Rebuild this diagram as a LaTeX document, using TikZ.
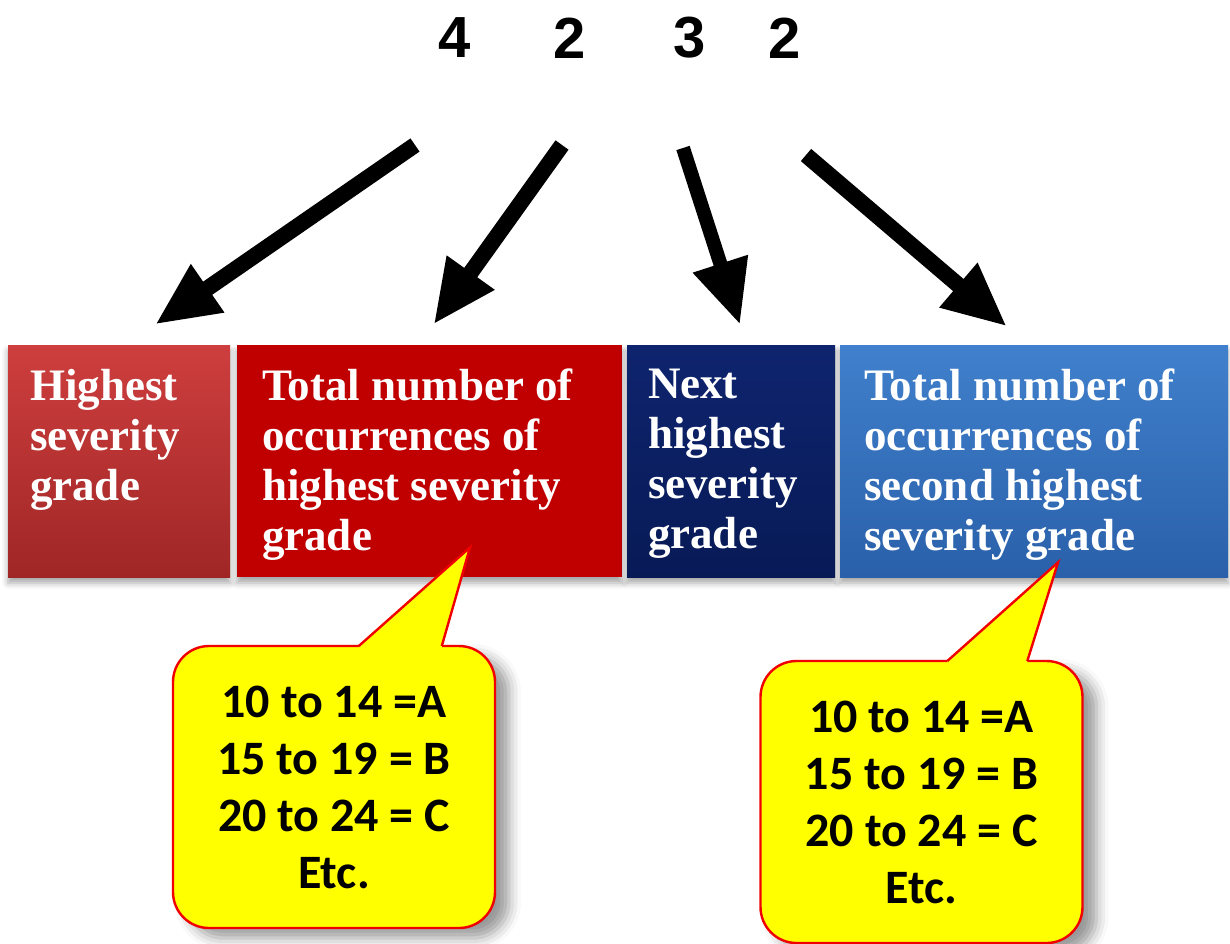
\documentclass[tikz,border=0pt]{standalone}
\usepackage{fontspec}
\usepackage{xcolor}
\usepackage{tikz}
\newfontfamily\gradefont{Liberation Serif}
\newfontfamily\digitfont{Liberation Sans}
\newfontfamily\notefont{Carlito}
\definecolor{gradered}{RGB}{192, 0, 0}
\definecolor{lightredtop}{RGB}{206, 62, 62}
\definecolor{lightredbot}{RGB}{160, 38, 38}
\definecolor{navytop}{RGB}{14, 36, 110}
\definecolor{navybot}{RGB}{8, 26, 86}
\definecolor{steeltop}{RGB}{64, 128, 204}
\definecolor{steelbot}{RGB}{42, 96, 170}
\definecolor{noteyellow}{RGB}{255, 255, 0}
\definecolor{notered}{RGB}{240, 0, 0}
\usetikzlibrary{arrows.meta, calc, shadows.blur}

\begin{document}
\begin{tikzpicture}[
    x=0.5pt, y=-0.5pt,
    digit/.style={font=\digitfont\bfseries\fontsize{29}{34}\selectfont},
    gradebox/.style={rectangle, inner sep=0pt, minimum height=116pt, text=white,
        font=\gradefont\bfseries\fontsize{22.5}{25}\selectfont,
        blur shadow={shadow xshift=0pt, shadow yshift=-3pt, shadow blur radius=3pt, shadow opacity=35}},
    note/.style={rectangle, rounded corners=18pt, draw=notered, line width=1.2pt, fill=noteyellow,
        minimum width=161pt, minimum height=141pt, align=center,
        font=\notefont\bfseries\fontsize{24}{28.5}\selectfont,
        blur shadow={shadow xshift=7pt, shadow yshift=-5pt, shadow blur radius=6pt, shadow opacity=40}},
    pointer/.style={-{Triangle[length=32pt, width=27pt]}, line width=8pt},
]
    \useasboundingbox (0,0) rectangle (1230,943);

    % Code digits
    \node[digit] (d1) at (455,38) {4};
    \node[digit] (d2) at (570,38) {2};
    \node[digit] (d3) at (690,38) {3};
    \node[digit] (d4) at (785,38) {2};

    % Grade boxes
    \node[gradebox, minimum width=111pt, top color=lightredtop, bottom color=lightredbot] (high) at (119,461)
        {\parbox[c][116pt][t]{89pt}{\vspace{12pt}Highest\\severity\\grade}};
    \node[gradebox, minimum width=192.5pt, fill=gradered] (total1) at (429.5,461)
        {\parbox[c][116pt][t]{167.5pt}{\vspace{12pt}Total number of\\occurrences of\\highest severity\\grade}};
    \node[gradebox, minimum width=104pt, top color=navytop, bottom color=navybot] (next) at (731,461)
        {\parbox[c][116pt][t]{83pt}{\vspace{12pt}Next\\highest\\severity\\grade}};
    \node[gradebox, minimum width=194pt, top color=steeltop, bottom color=steelbot] (total2) at (1034,461)
        {\parbox[c][116pt][t]{170pt}{\vspace{12pt}Total number of\\occurrences of\\second highest\\severity grade}};

    % Arrows
    \coordinate (a1) at (415,145);
    \coordinate (a2) at (562,145);
    \coordinate (a3) at (683,148);
    \coordinate (a4) at (806,155);
    \coordinate (b1) at ($(high.north)+(36,-20)$);
    \coordinate (b2) at ($(total1.north)+(4,-20)$);
    \coordinate (b3) at ($(next.north)+(9,-20)$);
    \coordinate (b4) at ($(total2.north)+(-27,-18)$);
    \draw[pointer] (a1) -- (b1);
    \draw[pointer] (a2) -- (b2);
    \draw[pointer, line width=7pt] (a3) -- (b3);
    \draw[pointer] (a4) -- (b4);

    % Callouts
    \node[note] (scale1) at (334,787) {10 to 14 =A\\15 to 19 = B\\20 to 24 = C\\Etc.};
    \coordinate (tip1) at ($(total1.south)+(40.5,-30)$);
    \fill[noteyellow] ($(scale1.north west)+(93.5pt,-2.5pt)$) -- ($(scale1.north west)+(93.5pt,0)$)
        -- (tip1) -- ($(scale1.north west)+(135pt,0)$) -- ($(scale1.north west)+(135pt,-2.5pt)$) -- cycle;
    \draw[notered, line width=1.2pt] ($(scale1.north west)+(93.5pt,-0.6pt)$) -- (tip1)
        -- ($(scale1.north west)+(135pt,-0.6pt)$);

    \node[note] (scale2) at (921.5,802) {10 to 14 =A\\15 to 19 = B\\20 to 24 = C\\Etc.};
    \coordinate (tip2) at ($(total2.south)+(24,-15)$);
    \fill[noteyellow] ($(scale2.north west)+(94pt,-2.5pt)$) -- ($(scale2.north west)+(94pt,0)$)
        -- (tip2) -- ($(scale2.north west)+(134pt,0)$) -- ($(scale2.north west)+(134pt,-2.5pt)$) -- cycle;
    \draw[notered, line width=1.2pt] ($(scale2.north west)+(94pt,-0.6pt)$) -- (tip2)
        -- ($(scale2.north west)+(134pt,-0.6pt)$);

\end{tikzpicture}
\end{document}
